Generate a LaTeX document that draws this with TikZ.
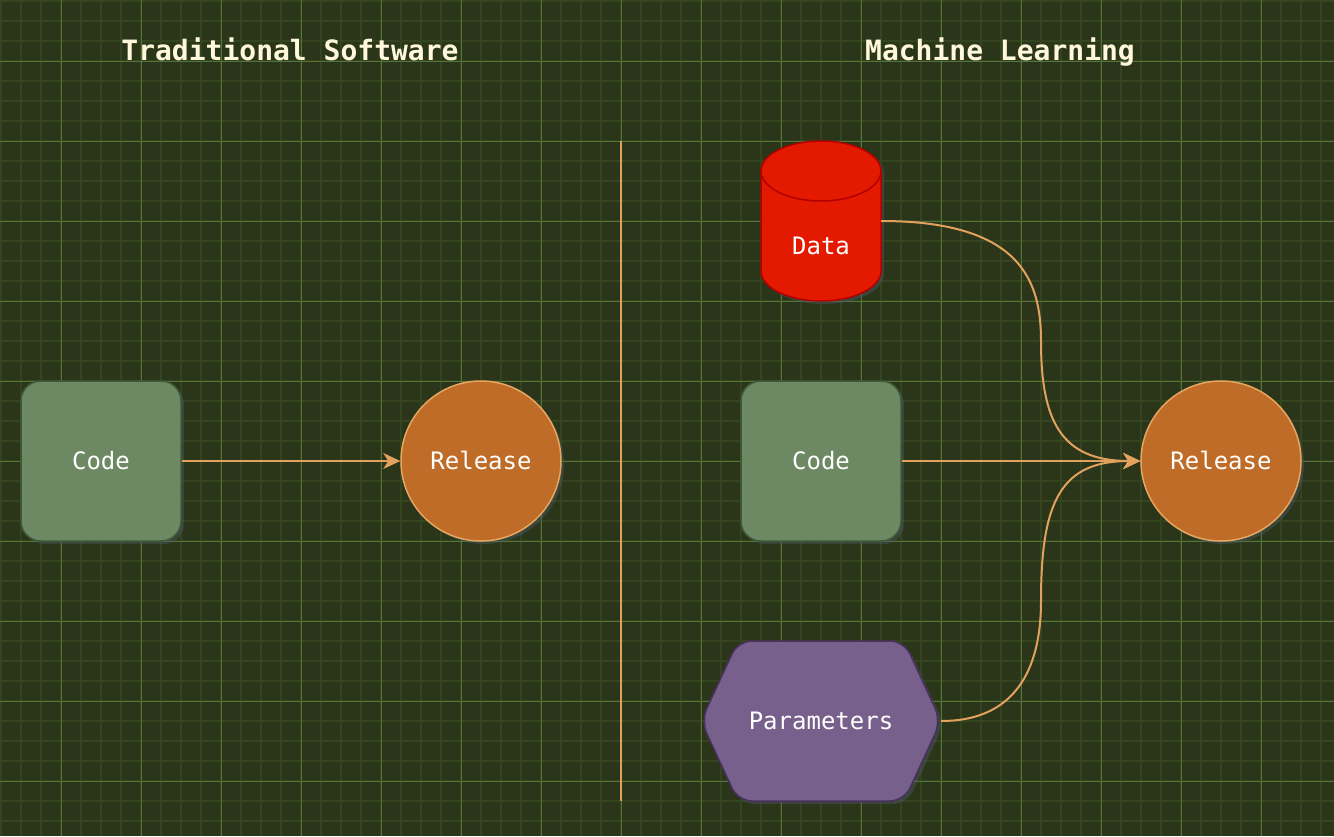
\documentclass[tikz,border=0pt]{standalone}
\usepackage{fontspec}
\setmonofont{DejaVu Sans Mono}
\usepackage{tikz}
\usetikzlibrary{arrows.meta,shadows}
\definecolor{boardbg}{HTML}{2A3519}
\definecolor{gridminor}{HTML}{33441E}
\definecolor{gridmajor}{HTML}{56733A}
\definecolor{codefill}{HTML}{6D8964}
\definecolor{codeline}{HTML}{3F5B37}
\definecolor{releasefill}{HTML}{BF6C28}
\definecolor{releaseline}{HTML}{E7A660}
\definecolor{datafill}{HTML}{E31900}
\definecolor{dataline}{HTML}{B20000}
\definecolor{paramfill}{HTML}{77608B}
\definecolor{paramline}{HTML}{4A2F5F}
\definecolor{flowline}{HTML}{E2A25E}
\definecolor{titlecream}{HTML}{FFF8DC}
\definecolor{glowgray}{HTML}{4C5866}

\begin{document}
\begin{tikzpicture}[x=1pt,y=-1pt,
  glow/.style={drop shadow={shadow xshift=3pt,shadow yshift=-3pt,fill=glowgray,opacity=0.45}},
  nodetext/.style={text=white,font=\ttfamily\fontsize{24}{28}\selectfont,text height=17pt,text depth=0pt},
  titletext/.style={text=titlecream,font=\ttfamily\bfseries\fontsize{28}{32}\selectfont,text height=20pt,text depth=0pt},
  codebox/.style={nodetext,draw=codeline,fill=codefill,line width=1.5pt,rounded corners=20pt,minimum width=160pt,minimum height=160pt,glow},
  releasedot/.style={nodetext,circle,draw=releaseline,fill=releasefill,line width=1.5pt,minimum size=160pt,glow},
  flow/.style={draw=flowline,line width=2pt,-{Stealth[length=17pt,width=16pt,inset=5pt]}}]
% board with grid
\useasboundingbox (0,0) rectangle (1334,836);
\fill[boardbg] (0,0) rectangle (1334,836);
\foreach \g in {1,21,...,1333} \draw[gridminor,line width=2pt] (\g,0) -- (\g,836);
\foreach \g in {1,21,...,835} \draw[gridminor,line width=2pt] (0,\g) -- (1334,\g);
\foreach \g in {61,141,...,1333} \draw[gridmajor,line width=1pt] (\g,0) -- (\g,836);
\foreach \g in {61,141,...,835} \draw[gridmajor,line width=1pt] (0,\g) -- (1334,\g);

% titles
\node[titletext] (tradtitle) at (290,50) {Traditional Software};
\node[titletext] (mltitle) at (1000,50) {Machine Learning};

% traditional side
\node[codebox] (tradcode) at (101,461) {Code};
\node[releasedot] (tradrelease) at (481,461) {Release};
\draw[flow] (tradcode) -- (tradrelease);

% divider
\coordinate (divtop) at (621,141);
\coordinate (divbot) at (621,801);
\draw[flowline,line width=2pt] (divtop) -- (divbot);

% machine learning side
\path[fill=datafill,draw=dataline,line width=1.5pt,glow] (761,171) -- (761,271)
  arc[start angle=180,end angle=360,x radius=60pt,y radius=30pt] -- (881,171)
  arc[start angle=0,end angle=180,x radius=60pt,y radius=30pt] -- cycle;
\draw[dataline,line width=1.5pt] (761,171) arc[start angle=180,end angle=360,x radius=60pt,y radius=30pt];
\node[minimum width=120pt,minimum height=160pt,label={[nodetext,yshift=-25pt]center:Data}] (data) at (821,221) {};

\path[fill=paramfill,draw=paramline,line width=1.5pt,rounded corners=14pt,glow] (738,641) -- (904,641)
  -- (941,721) -- (904,801) -- (738,801) -- (701,721) -- cycle;
\node[nodetext,minimum width=240pt,minimum height=160pt] (params) at (821,721) {Parameters};

\node[codebox] (mlcode) at (821,461) {Code};
\node[releasedot] (mlrelease) at (1221,461) {Release};

\draw[flow] (mlcode) -- (mlrelease);
\draw[flow] (data.east) .. controls (1021,221) and (1041,281) .. (1041,341)
  .. controls (1041,421) and (1061,461) .. (mlrelease.west);
\draw[flow] (params.east) .. controls (1021,721) and (1041,661) .. (1041,601)
  .. controls (1041,501) and (1061,461) .. (mlrelease.west);
\end{tikzpicture}
\end{document}
